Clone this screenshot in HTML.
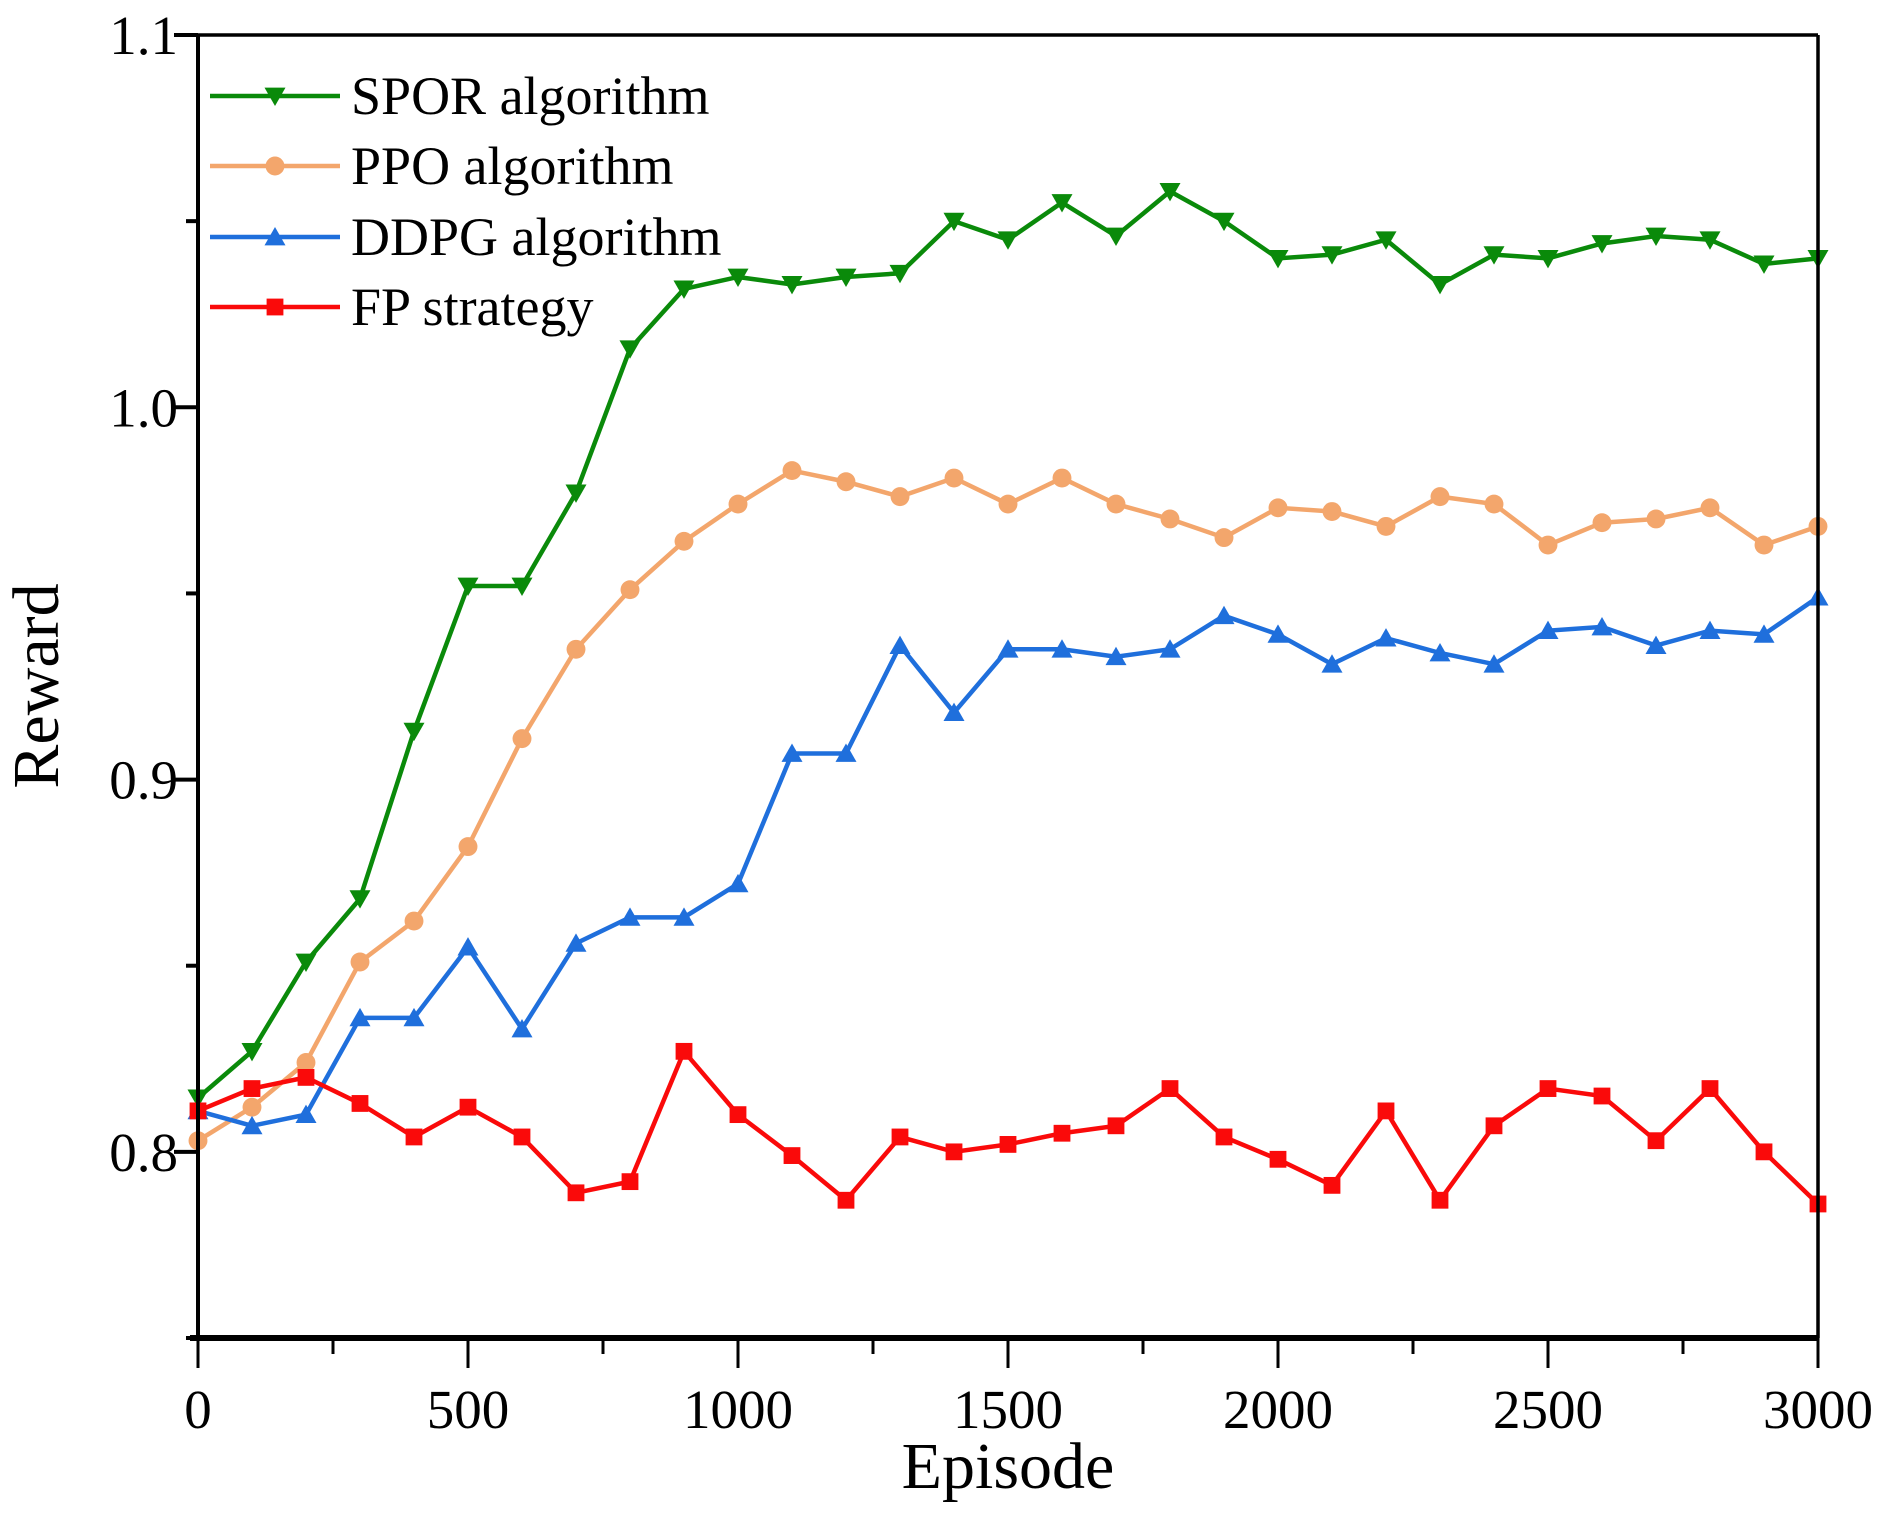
<!DOCTYPE html>
<html><head><meta charset="utf-8"><style>
html,body{margin:0;padding:0;background:#fff;}
svg{display:block;font-family:"Liberation Serif",serif;}
</style></head><body>
<svg id="chart" width="1882" height="1513" viewBox="0 0 1882 1513">
<g id="marks"></g>
<g id="axes"></g>
<g id="legend"></g>
</svg>
<script>
const episodes=[0,100,200,300,400,500,600,700,800,900,1000,1100,1200,1300,1400,1500,1600,1700,1800,1900,2000,2100,2200,2300,2400,2500,2600,2700,2800,2900,3000];
const sporValues=[0.8145,0.827,0.851,0.868,0.913,0.952,0.952,0.977,1.0157,1.0318,1.035,1.033,1.035,1.036,1.050,1.045,1.055,1.046,1.058,1.050,1.040,1.041,1.045,1.033,1.041,1.040,1.044,1.046,1.045,1.0385,1.040];
const ppoValues=[0.803,0.812,0.824,0.851,0.862,0.882,0.911,0.935,0.951,0.964,0.974,0.983,0.980,0.976,0.981,0.974,0.981,0.974,0.970,0.965,0.973,0.972,0.968,0.976,0.974,0.963,0.969,0.970,0.973,0.963,0.968];
const ddpgValues=[0.811,0.807,0.810,0.836,0.836,0.855,0.833,0.856,0.863,0.863,0.872,0.907,0.907,0.936,0.918,0.935,0.935,0.933,0.935,0.944,0.939,0.931,0.938,0.934,0.931,0.940,0.941,0.936,0.940,0.939,0.949];
const fpValues=[0.811,0.817,0.820,0.813,0.804,0.812,0.804,0.789,0.792,0.827,0.810,0.799,0.787,0.804,0.800,0.802,0.805,0.807,0.817,0.804,0.798,0.791,0.811,0.787,0.807,0.817,0.815,0.803,0.817,0.800,0.786];
const xTicks=[0,500,1000,1500,2000,2500,3000];
const xMinorTicks=[250,750,1250,1750,2250,2750];
const yTicks=[0.8,0.9,1.0,1.1];
const yTickLabels=["0.8","0.9","1.0","1.1"];
const yMinorTicks=[0.75,0.85,0.95,1.05];

const L=198,R=1818,T=35,B=1338,XMIN=0,XMAX=3000,YMIN=0.75,YMAX=1.1;
const sx=v=>L+(v-XMIN)/(XMAX-XMIN)*(R-L);
const sy=v=>B-(v-YMIN)/(YMAX-YMIN)*(B-T);
const NS="http://www.w3.org/2000/svg";
function mk(tag,attrs,parent){const e=document.createElementNS(NS,tag);for(const k in attrs)e.setAttribute(k,attrs[k]);parent.appendChild(e);return e;}
const marks=document.getElementById('marks'),axes=document.getElementById('axes'),legend=document.getElementById('legend');

function marker(type,x,y,color,parent){
  const s=10.5;
  if(type==='down') return mk('polygon',{points:`${x-s},${y-s*0.8} ${x+s},${y-s*0.8} ${x},${y+s*0.95}`,fill:color},parent);
  if(type==='up') return mk('polygon',{points:`${x-s},${y+s*0.8} ${x+s},${y+s*0.8} ${x},${y-s*0.95}`,fill:color},parent);
  if(type==='circle') return mk('circle',{cx:x,cy:y,r:s*0.9,fill:color},parent);
  return mk('rect',{x:x-s*0.8,y:y-s*0.8,width:s*1.6,height:s*1.6,fill:color},parent);
}
const series=[
  {name:'spor',vals:sporValues,color:'#0a8a0a',m:'down',label:'SPOR algorithm'},
  {name:'ppo',vals:ppoValues,color:'#f3a66c',m:'circle',label:'PPO algorithm'},
  {name:'ddpg',vals:ddpgValues,color:'#1f6fdc',m:'up',label:'DDPG algorithm'},
  {name:'fp',vals:fpValues,color:'#fa0a0a',m:'square',label:'FP strategy'}
];
const drawOrder=[1,2,0,3];
drawOrder.forEach(i=>{
  const s=series[i];
  const g=mk('g',{},marks);
  
  
  const pl=mk('polyline',{points:episodes.map((e,j)=>sx(e)+','+sy(s.vals[j])).join(' '),fill:'none',stroke:s.color,'stroke-width':4.5,'stroke-linejoin':'miter'},g);
  
  
  episodes.forEach((e,j)=>{
    const m=marker(s.m,sx(e),sy(s.vals[j]),s.color,g);
    
    
  });
});

mk('line',{x1:L,y1:T,x2:R,y2:T,stroke:'#000','stroke-width':3.5},axes);
mk('line',{x1:R,y1:T,x2:R,y2:B,stroke:'#000','stroke-width':3.5},axes);
const la=mk('line',{x1:L,y1:T-1.5,x2:L,y2:B+3,stroke:'#000','stroke-width':4},axes);

const ba=mk('line',{x1:L-8,y1:B,x2:R,y2:B,stroke:'#000','stroke-width':6},axes);

xTicks.forEach(v=>{
  mk('line',{x1:sx(v),y1:B,x2:sx(v),y2:B+30,stroke:'#000','stroke-width':3},axes);
  const t=mk('text',{x:sx(v),y:1428,'font-size':55,'text-anchor':'middle'},axes);t.textContent=v;
  
});
xMinorTicks.forEach(v=>mk('line',{x1:sx(v),y1:B,x2:sx(v),y2:B+16,stroke:'#000','stroke-width':3},axes));
yTicks.forEach((v,i)=>{
  mk('line',{x1:L-24,y1:sy(v),x2:L,y2:sy(v),stroke:'#000','stroke-width':4},axes);
  const t=mk('text',{x:178,y:sy(v)+19,'font-size':55,'text-anchor':'end'},axes);t.textContent=yTickLabels[i];
  
});
yMinorTicks.forEach(v=>mk('line',{x1:L-12,y1:sy(v),x2:L,y2:sy(v),stroke:'#000','stroke-width':4},axes));
const xt=mk('text',{x:1008,y:1488,'font-size':66,'text-anchor':'middle'},axes);xt.textContent='Episode';

const yt=mk('text',{x:0,y:0,'font-size':66,'text-anchor':'middle',transform:'translate(58,686) rotate(-90)'},axes);yt.textContent='Reward';


const ly=[96,166,237,307];
series.forEach((s,i)=>{
  const g=mk('g',{},legend);
  
  
  mk('line',{x1:210,y1:ly[i],x2:340,y2:ly[i],stroke:s.color,'stroke-width':4.5},g);
  marker(s.m,275,ly[i],s.color,g);
  const t=mk('text',{x:351,y:ly[i]+18,'font-size':54},g);t.textContent=s.label;
});
</script>
</body></html>
